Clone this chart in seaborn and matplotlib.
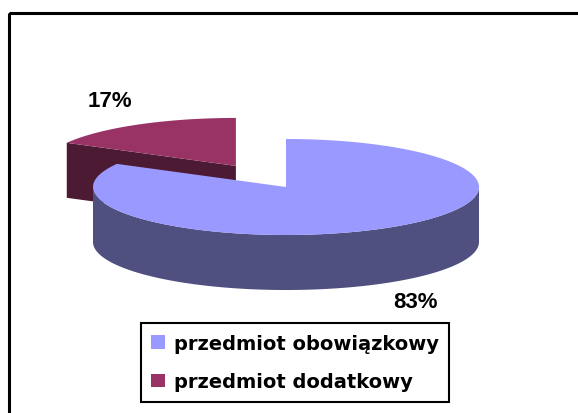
import numpy as np
import matplotlib
matplotlib.use("Agg")
import matplotlib.pyplot as plt
from matplotlib.patches import Polygon, Rectangle, Patch
import seaborn as sns

# data
labels = ["przedmiot obowiązkowy", "przedmiot dodatkowy"]
shares = [83, 17]
pct_labels = ["83%", "17%"]
top_colors = ["#9999FF", "#993366"]
side_colors = ["#4F4F80", "#4D1A33"]
explode = [0.0, 0.51]

sns.set_theme(style="white")
plt.rcParams["font.family"] = ["Liberation Sans", "DejaVu Sans"]

fig = plt.figure(figsize=(5.78, 4.14), dpi=100)
ax = fig.add_axes([0, 0, 1, 1])
ax.set_xlim(0, 578)
ax.set_ylim(414, 0)
ax.axis("off")

# outer chart frame
ax.add_patch(Rectangle((8.5, 13.5), 600, 420, fill=False, edgecolor="black", linewidth=2.2))

# pie geometry (pixels)
cx, cy, rx, ry, depth = 286, 188, 193, 48, 55


def rim(t, ox, oy, dz=0.0):
    return np.column_stack([ox + rx * np.cos(t), oy - ry * np.sin(t) + dz])


def front_parts(t1, t2):
    # pieces of [t1, t2] lying on the front half (sin <= 0)
    parts = []
    for k in range(-2, 3):
        a = max(t1, np.pi + 2 * np.pi * k)
        b = min(t2, 2 * np.pi + 2 * np.pi * k)
        if b > a:
            parts.append((a, b))
    return parts


# slices go clockwise from 12 o'clock
total = sum(shares)
slices = []
start = np.pi / 2
for i, s in enumerate(shares):
    sweep = 2 * np.pi * s / total
    t2 = start
    t1 = start - sweep
    start = t1
    mid = (t1 + t2) / 2
    ox = cx + explode[i] * rx * np.cos(mid)
    oy = cy - explode[i] * ry * np.sin(mid)
    slices.append((i, t1, t2, mid, ox, oy))

# paint back slices first
for i, t1, t2, mid, ox, oy in sorted(slices, key=lambda s: -np.sin(s[3])):
    # radial faces facing the viewer
    for t, normal in ((t1, t1 - np.pi / 2), (t2, t2 + np.pi / 2)):
        if np.sin(normal) < -1e-6:
            p = rim(np.array([t]), ox, oy)[0]
            quad = [(ox, oy), tuple(p), (p[0], p[1] + depth), (ox, oy + depth)]
            ax.add_patch(Polygon(quad, closed=True, facecolor=side_colors[i], edgecolor="none"))
    # outer curved side
    for a, b in front_parts(t1, t2):
        tt = np.linspace(a, b, 200)
        upper = rim(tt, ox, oy)
        lower = rim(tt[::-1], ox, oy, depth)
        ax.add_patch(Polygon(np.vstack([upper, lower]), closed=True,
                             facecolor=side_colors[i], edgecolor="none"))
    # top face
    tt = np.linspace(t1, t2, 400)
    top = np.vstack([[ox, oy], rim(tt, ox, oy)])
    ax.add_patch(Polygon(top, closed=True, facecolor=top_colors[i], edgecolor="none"))

# percentage labels
label_xy = [(416, 303), (110, 102)]
for (x, y), txt in zip(label_xy, pct_labels):
    ax.text(x, y, txt, ha="center", va="center", fontsize=16, fontweight="bold", color="black")

# legend
handles = [Patch(facecolor=c, edgecolor="none", label=l) for c, l in zip(top_colors, labels)]
leg = ax.legend(handles=handles, loc="center", bbox_to_anchor=(295, 363.5),
                bbox_transform=ax.transData, fancybox=False, frameon=True,
                prop={"family": "DejaVu Sans", "weight": "bold", "size": 14},
                labelcolor="black",
                handlelength=0.7, handleheight=0.7, handletextpad=0.45,
                labelspacing=1.0, borderpad=0.55, borderaxespad=0)
leg.get_frame().set_edgecolor("black")
leg.get_frame().set_linewidth(1.5)
leg.get_frame().set_alpha(1)

fig.savefig("out.png", dpi=100, facecolor="white")
